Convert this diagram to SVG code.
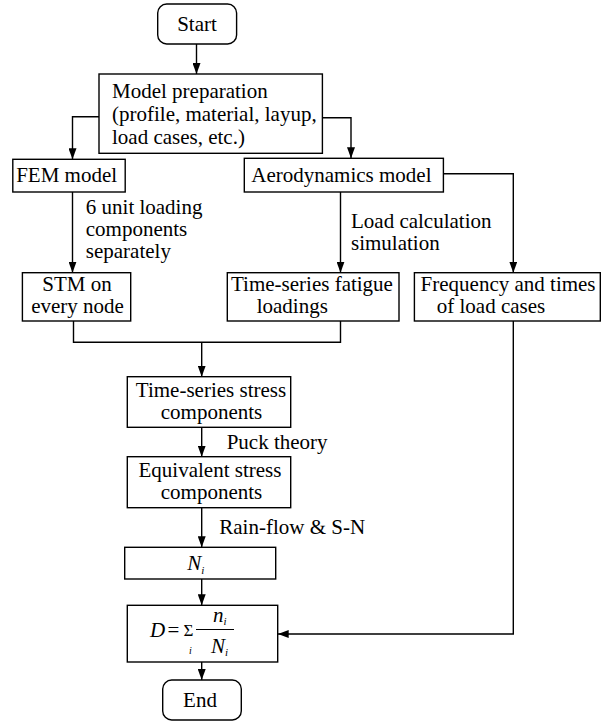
<svg xmlns="http://www.w3.org/2000/svg" width="606" height="722" viewBox="0 0 606 722">
<style>
.box{fill:#fff;stroke:#000;stroke-width:1.4}
.t{font-family:"Liberation Serif","Times New Roman",serif;font-size:21px;fill:#000}
.m{text-anchor:middle}
.it{font-style:italic}
.c{fill:none;stroke:#000;stroke-width:1.4}
</style>
<defs>
<marker id="ah" markerUnits="userSpaceOnUse" markerWidth="11" markerHeight="8" refX="11" refY="4" orient="auto">
<path d="M0,0 L11,4 L0,8 z" fill="#000"/>
</marker>
</defs>
<rect width="606" height="722" fill="#fff"/>
<g id="connectors">
<path class="c" d="M196.5,44 V74" marker-end="url(#ah)"/>
<path class="c" d="M99,116.7 H72.5 V159.3" marker-end="url(#ah)"/>
<path class="c" d="M322.4,117.7 H351 V158.3" marker-end="url(#ah)"/>
<path class="c" d="M72.5,192 V272.7" marker-end="url(#ah)"/>
<path class="c" d="M340.5,192 V272.7" marker-end="url(#ah)"/>
<path class="c" d="M443.4,173.7 H513.3 V272.7" marker-end="url(#ah)"/>
<path class="c" d="M73.5,321 V342.3 H340.5 V321"/>
<path class="c" d="M201.7,342.3 V376.7" marker-end="url(#ah)"/>
<path class="c" d="M201.7,427.3 V456.7" marker-end="url(#ah)"/>
<path class="c" d="M201.7,507.7 V547.3" marker-end="url(#ah)"/>
<path class="c" d="M201.7,579 V605.3" marker-end="url(#ah)"/>
<path class="c" d="M513.3,321 V634 H277.7" marker-end="url(#ah)"/>
<path class="c" d="M201.7,662 V680" marker-end="url(#ah)"/>
<text class="t" x="85.8" y="214">6 unit loading</text>
<text class="t" x="85.8" y="236">components</text>
<text class="t" x="85.8" y="258">separately</text>
<text class="t" x="351" y="228">Load calculation</text>
<text class="t" x="351" y="250">simulation</text>
<text class="t" x="226.7" y="449">Puck theory</text>
<text class="t" x="219.3" y="534">Rain-flow &amp; S-N</text>
</g>
<g id="start">
<rect class="box" x="157.7" y="4" width="78.9" height="40" rx="9"/>
<text class="t m" x="197" y="31">Start</text>
</g>
<g id="model-prep">
<rect class="box" x="99" y="74" width="223.4" height="79.3"/>
<text class="t" x="112" y="97.7">Model preparation</text>
<text class="t" x="112" y="120.7">(profile, material, layup,</text>
<text class="t" x="112" y="143.7">load cases, etc.)</text>
</g>
<g id="fem">
<rect class="box" x="12.8" y="159.3" width="112.4" height="32.7"/>
<text class="t" x="16.2" y="182">FEM model</text>
</g>
<g id="aero">
<rect class="box" x="244.3" y="158.3" width="199.1" height="33.7"/>
<text class="t" x="251.3" y="182">Aerodynamics model</text>
</g>
<g id="stm">
<rect class="box" x="22.4" y="272.7" width="108.3" height="48.3"/>
<text class="t m" x="77" y="291">STM on</text>
<text class="t m" x="77.5" y="313">every node</text>
</g>
<g id="tsf">
<rect class="box" x="227.3" y="272.7" width="171.7" height="48.3"/>
<text class="t" x="231" y="291">Time-series fatigue</text>
<text class="t" x="256.7" y="313">loadings</text>
</g>
<g id="freq">
<rect class="box" x="414.4" y="272.7" width="185.9" height="48.3"/>
<text class="t" x="420.6" y="291">Frequency and times</text>
<text class="t" x="436.8" y="313">of load cases</text>
</g>
<g id="tss">
<rect class="box" x="127.3" y="376.7" width="163.4" height="50.6"/>
<text class="t m" x="211" y="397">Time-series stress</text>
<text class="t m" x="211.5" y="419">components</text>
</g>
<g id="equiv">
<rect class="box" x="127.3" y="456.7" width="163.4" height="51"/>
<text class="t m" x="210" y="477">Equivalent stress</text>
<text class="t m" x="211.5" y="499">components</text>
</g>
<g id="ni">
<rect class="box" x="124.7" y="547.3" width="151" height="31.7"/>
<text class="t it" x="187.3" y="570">N<tspan font-size="11" dy="3.5">i</tspan></text>
</g>
<g id="damage">
<rect class="box" x="127.3" y="605.3" width="150.4" height="56.7"/>
<text class="t" x="150" y="637"><tspan class="it">D</tspan><tspan x="167.5">=</tspan><tspan x="183.5" font-size="17" dy="-1">Σ</tspan><tspan x="189" dy="18" font-size="10" class="it">i</tspan></text>
<text class="t it" x="213" y="622">n<tspan font-size="11" dy="3">i</tspan></text>
<line x1="196" y1="629.5" x2="234" y2="629.5" stroke="#000" stroke-width="1"/>
<text class="t it" x="211" y="652.5">N<tspan font-size="11" dy="3.5">i</tspan></text>
</g>
<g id="end">
<rect class="box" x="162.7" y="680" width="78.6" height="40" rx="9"/>
<text class="t m" x="200" y="707">End</text>
</g>
</svg>
